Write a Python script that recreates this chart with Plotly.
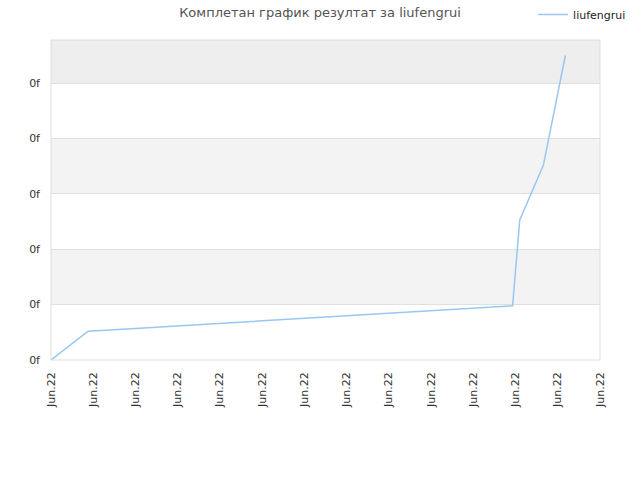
import plotly.graph_objects as go

# data (x in tick steps, y in grid steps)
pos = [0.0, 0.88, 2.0, 4.0, 6.0, 8.0, 10.0, 10.93, 11.1, 11.66, 12.18]
score = [0.0, 0.52, 0.571, 0.663, 0.754, 0.846, 0.937, 0.98, 2.53, 3.52, 5.5]

x_ticks = list(range(14))
x_labels = ['Jun.22'] * 14
y_ticks = [0, 1, 2, 3, 4, 5]
y_labels = ['0f'] * 6

fig = go.Figure()
fig.add_trace(go.Scatter(x=pos, y=score, mode='lines', name='liufengrui',
                         line=dict(color='#99c6f3', width=1.5)))

# alternating background bands
y_top = 5.78
for lo, hi, col in [(1, 2, '#f3f3f3'), (3, 4, '#f3f3f3'), (5, y_top, '#eeeeee')]:
    fig.add_shape(type='rect', xref='paper', yref='y', x0=0, x1=1, y0=lo, y1=hi,
                  fillcolor=col, line_width=0, layer='below')
fig.add_shape(type='rect', xref='paper', yref='paper', x0=0, x1=1, y0=0, y1=1,
              line=dict(color='#dddddd', width=1), layer='above')

fig.update_layout(
    width=640, height=480,
    margin=dict(l=51, r=40, t=40, b=120, autoexpand=False),
    paper_bgcolor='white', plot_bgcolor='white',
    font=dict(family='DejaVu Sans', size=11, color='#333333'),
    title=dict(text='Комплетан график резултат за liufengrui', x=0.5, xanchor='center',
               y=0.975, yanchor='middle', font=dict(size=13, color='#555555')),
    showlegend=True,
    legend=dict(xref='container', yref='container', x=0.833, y=1.0,
                xanchor='left', yanchor='top', bgcolor='rgba(0,0,0,0)',
                itemwidth=30, font=dict(size=11, color='#222222')),
    xaxis=dict(range=[0, 13], tickvals=x_ticks, ticktext=x_labels, tickangle=-90,
               ticklabelstandoff=9,
               showgrid=False, zeroline=False, showline=False, ticks='', automargin=False),
    yaxis=dict(range=[0, y_top], tickvals=y_ticks, ticktext=y_labels, automargin=False,
               ticklabelstandoff=10,
               showgrid=True, gridcolor='#e0e0e0', zeroline=False, showline=False, ticks=''),
)

fig.write_html("out.html", config={'displayModeBar': False},
               post_script="document.body.style.margin='0px';")
